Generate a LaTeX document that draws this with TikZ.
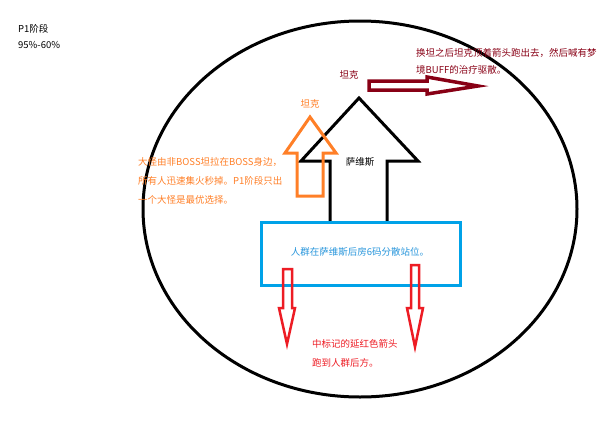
\documentclass[tikz,border=0pt]{standalone}
\usepackage{fontspec}
\setmainfont{Noto Sans CJK SC}
\definecolor{corange}{RGB}{255,127,39}
\definecolor{cdarkred}{RGB}{136,0,21}
\definecolor{cred}{RGB}{237,28,36}
\definecolor{cblue}{RGB}{0,162,232}
\definecolor{cbluetext}{RGB}{40,150,220}
\begin{document}
\begin{tikzpicture}[x=1pt,y=-1pt,
  txt/.style={inner sep=0pt,font=\fontsize{9.5}{12}\selectfont},
  multi/.style={inner sep=0pt,align=left,anchor=west},
  shapeline/.style={line width=3pt,line join=miter}]
\useasboundingbox (0,0) rectangle (600,432);
% big circle
\draw[line width=3pt] (360,209) ellipse [x radius=217,y radius=188];
% black arrow (萨维斯)
\draw[shapeline,black] (330,223) -- (330,161) -- (301,161) -- (359,98) -- (418,161) -- (387,161) -- (387,223) -- cycle;
% orange arrow
\draw[shapeline,corange] (297,196) -- (297,153) -- (285,153) -- (310,117) -- (336,153) -- (323,153) -- (323,196) -- cycle;
% blue rectangle
\draw[line width=3pt,cblue,fill=white] (261,222) rectangle (460,285);
% red arrows
\draw[line width=2.5pt,cred] (283,269) -- (283,308) -- (279,308) -- (287,344) -- (295,308) -- (292,308) -- (292,269) -- cycle;
\draw[line width=2.5pt,cred] (411,265) -- (411,308) -- (407,308) -- (415,347) -- (423,308) -- (419,308) -- (419,265) -- cycle;
% dark red arrow
\draw[line width=3.5pt,cdarkred] (369,81) -- (427,81) -- (427,77) -- (478,86) -- (427,94) -- (427,90) -- (369,90) -- cycle;
% texts
\node[multi,font=\fontsize{9.5}{16}\selectfont] (phase) at (18,37) {P1阶段\\95\%-60\%};
\node[multi,text=cdarkred,font=\fontsize{9.5}{17}\selectfont] (swap) at (416,61) {换坦之后坦克顶着箭头跑出去，然后喊有梦\\境BUFF的治疗驱散。};
\node[txt,text=cdarkred] (tank1) at (349,75) {坦克};
\node[txt,text=corange] (tank2) at (310,104) {坦克};
\node[txt] (saweisi) at (360,162) {萨维斯};
\node[multi,text=corange,font=\fontsize{9.5}{19}\selectfont] (add) at (138,181) {大怪由非BOSS坦拉在BOSS身边，\\所有人迅速集火秒掉。P1阶段只出\\一个大怪是最优选择。};
\node[txt,text=cbluetext] (crowd) at (360,252) {人群在萨维斯后房6码分散站位。};
\node[multi,text=cred,font=\fontsize{9.5}{19}\selectfont] (mark) at (312,353) {中标记的延红色箭头\\跑到人群后方。};
\end{tikzpicture}
\end{document}
